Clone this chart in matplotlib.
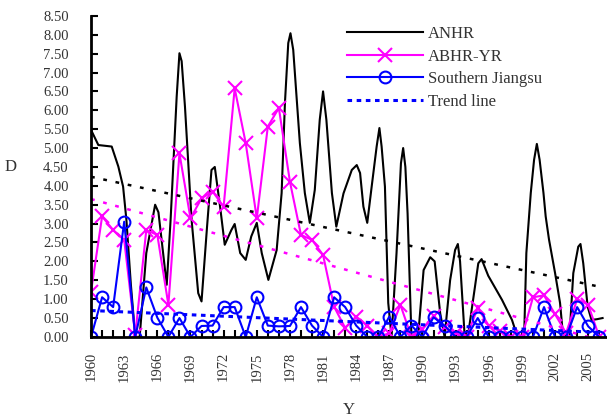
import numpy as np
import matplotlib.pyplot as plt
from matplotlib.ticker import MultipleLocator, FormatStrFormatter

plt.rcParams['font.family'] = ['Liberation Serif', 'DejaVu Serif']

years = np.arange(1960, 2007)

# ANHR, traced at irregular sub-year positions
anhr_x = [1960.0, 1960.66, 1961.27, 1961.87, 1962.47, 1962.9, 1963.2, 1963.6, 1964.0,
          1964.4, 1965.0, 1965.8, 1966.1, 1966.85, 1967.2, 1967.75, 1968.0, 1968.2,
          1968.5, 1969.1, 1969.7, 1970.0, 1970.5, 1970.9, 1971.2, 1971.7, 1972.1,
          1972.7, 1973.0, 1973.5, 1974.0, 1974.5, 1975.0, 1975.45, 1976.05, 1976.8,
          1977.25, 1977.55, 1977.85, 1978.05, 1978.3, 1978.6, 1978.9, 1979.35, 1979.8,
          1980.25, 1980.7, 1981.0, 1981.3, 1981.8, 1982.2, 1982.85, 1983.6, 1984.05,
          1984.35, 1984.65, 1985.0, 1985.4, 1985.85, 1986.1, 1986.3, 1986.6, 1986.9,
          1987.2, 1987.65, 1988.05, 1988.25, 1988.45, 1988.65, 1989.0, 1989.6, 1990.1,
          1990.7, 1991.1, 1991.6, 1992.0, 1992.5, 1992.95, 1993.2, 1993.4, 1993.8,
          1994.1, 1994.75, 1995.05, 1995.35, 1995.95, 1997.2, 1998.1, 1998.6, 1999.2,
          1999.4, 1999.8, 2000.1, 2000.35, 2000.6, 2000.95, 2001.15, 2001.45, 2002.0,
          2002.45, 2002.7, 2003.3, 2003.65, 2004.1, 2004.3, 2004.55, 2004.95, 2005.3,
          2005.8, 2006.3]
anhr_y = [5.48, 5.08, 5.06, 5.04, 4.51, 3.98, 3.10, 1.40, 0.0,
          0.0, 2.22, 3.50, 3.30, 1.38, 3.10, 6.36, 7.51, 7.30,
          6.10, 3.10, 1.16, 0.94, 2.92, 4.42, 4.50, 3.40, 2.44,
          2.83, 2.99, 2.22, 2.04, 2.66, 3.02, 2.22, 1.51, 2.30,
          3.81, 6.20, 7.78, 8.04, 7.60, 6.36, 5.13, 3.81, 3.02,
          3.89, 5.75, 6.50, 5.75, 3.81, 2.92, 3.80, 4.42, 4.55,
          4.34, 3.45, 3.02, 3.98, 5.04, 5.53, 5.04, 3.98, 0.90,
          0.0, 2.22, 4.60, 5.00, 4.50, 3.27, 0.0, 0.0, 1.77,
          2.11, 2.00, 0.63, 0.0, 1.50, 2.30, 2.46, 2.00, 0.10,
          0.0, 1.33, 1.95, 2.06, 1.62, 0.98, 0.45, 0.0, 0.0,
          2.22, 3.81, 4.69, 5.11, 4.69, 3.81, 3.19, 2.58, 1.69,
          0.90, 0.10, 0.0, 1.69, 2.39, 2.46, 1.95, 0.80, 0.45,
          0.47, 0.50]

abhr_yr = [1.20, 3.19, 2.83, 2.57, 0.05, 2.83, 2.70, 0.85, 4.86, 3.14,
           3.67, 3.85, 3.45, 6.58, 5.13, 3.14, 5.57, 6.06, 4.11, 2.70,
           2.57, 2.17, 0.80, 0.24, 0.54, 0.30, 0.00, 0.10, 0.85, 0.00,
           0.20, 0.56, 0.25, 0.10, 0.00, 0.77, 0.30, 0.15, 0.00, 0.00,
           1.05, 1.10, 0.60, 0.10, 1.00, 0.85, 0.00]

s_jiangsu = [0.00, 1.05, 0.79, 3.05, 0.00, 1.31, 0.51, 0.00, 0.50, 0.00,
             0.29, 0.30, 0.79, 0.79, 0.00, 1.05, 0.30, 0.28, 0.29, 0.79,
             0.30, 0.00, 1.05, 0.79, 0.30, 0.00, 0.00, 0.54, 0.00, 0.30,
             0.00, 0.52, 0.30, 0.00, 0.00, 0.50, 0.00, 0.00, 0.00, 0.00,
             0.00, 0.79, 0.00, 0.00, 0.79, 0.28, 0.00]

# linear trends: value at 1960 and 2006
trend_ends = [1960, 2006]
anhr_trend = [4.24, 1.33]
abhr_trend = [3.65, -0.08]
sj_trend = [0.70, 0.12]

year_ticks = np.arange(1960, 2007, 3)

fig = plt.figure(figsize=(6.07, 4.17), dpi=100)
ax = fig.add_axes([0.15, 0.192, 0.85, 0.77])

ax.plot(anhr_x, anhr_y, color='black', lw=1.5, label='ANHR')
ax.plot(years, abhr_yr, color='#ff00ff', lw=1.5, marker='x', ms=10, mew=1.5,
        label='ABHR-YR')
ax.plot(years, s_jiangsu, color='#0000ff', lw=1.5, marker='o', ms=8.5, mew=1.5,
        mfc='none', label='Southern Jiangsu')
ax.plot(trend_ends, anhr_trend, color='black', lw=1.8, ls=(0, (1.5, 3.5)))
ax.plot(trend_ends, abhr_trend, color='#ff00ff', lw=1.8, ls=(0, (1.5, 3.5)))
ax.plot(trend_ends, sj_trend, color='#0000ff', lw=2.2, ls=(0, (1.5, 1.5)),
        label='Trend line')

ax.set_xlim(1960, 2006.7)
ax.set_ylim(0, 8.5)
ax.set_xticks(year_ticks)
ax.xaxis.set_minor_locator(MultipleLocator(1))
ax.yaxis.set_major_locator(MultipleLocator(0.5))
ax.yaxis.set_major_formatter(FormatStrFormatter('%.2f'))
ax.tick_params(axis='both', which='both', direction='in', width=1.5,
               labelsize=10.5, colors='black')
ax.tick_params(axis='both', which='major', length=5)
ax.tick_params(axis='x', which='minor', length=5)
ax.tick_params(axis='x', labelrotation=90, pad=11)
ax.tick_params(axis='y', pad=16)
for lbl in ax.get_xticklabels() + ax.get_yticklabels():
    lbl.set_color('#333333')
for side in ['top', 'right']:
    ax.spines[side].set_visible(False)
for side in ['left', 'bottom']:
    ax.spines[side].set_linewidth(2)

ax.set_xlabel('Y', fontsize=12, color='#333333', va='center')
ax.xaxis.set_label_coords(0.5, -0.227)
ax.set_ylabel('D', fontsize=12, color='#333333', rotation=0, va='center',
              ha='center')
ax.yaxis.set_label_coords(-0.157, 0.53)

leg = ax.legend(loc='upper left', bbox_to_anchor=(0.476, 1.0), frameon=False,
                fontsize=12, handlelength=4.6, handletextpad=0.3,
                labelspacing=0.4, borderaxespad=0.2)
for t in leg.get_texts():
    t.set_color('#333333')

fig.savefig('out.png', dpi=100)
